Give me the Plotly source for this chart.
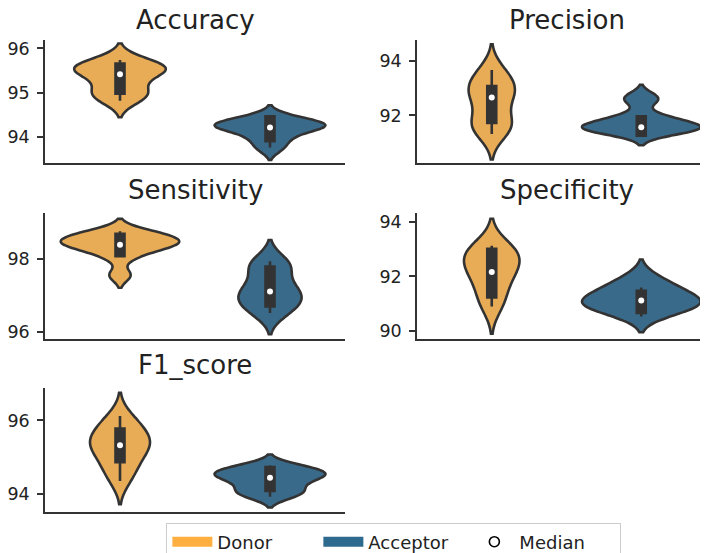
import plotly.graph_objects as go

# ---------------- data ----------------
metrics = ["Accuracy", "Precision", "Sensitivity", "Specificity", "F1_score"]
groups = ["Donor", "Acceptor"]

# per-fold scores (%)
accuracy_donor = [94.82, 94.95, 95.02, 95.20, 95.42, 95.48, 95.52, 95.58, 95.65, 95.74]
accuracy_acceptor = [93.74, 93.92, 94.05, 94.18, 94.22, 94.25, 94.28, 94.32, 94.38, 94.47]
precision_donor = [91.32, 91.55, 91.70, 91.90, 92.50, 92.75, 92.90, 93.10, 93.40, 93.67]
precision_acceptor = [91.34, 91.42, 91.50, 91.55, 91.58, 91.62, 91.70, 91.85, 92.00, 92.55, 92.68]
sensitivity_donor = [97.55, 98.05, 98.25, 98.35, 98.40, 98.45, 98.50, 98.60, 98.68, 98.75]
sensitivity_acceptor = [96.52, 96.65, 96.80, 96.95, 97.05, 97.15, 97.35, 97.70, 97.85, 97.93]
specificity_donor = [90.89, 91.20, 91.70, 92.00, 92.25, 92.45, 92.65, 92.85, 93.00, 93.13]
specificity_acceptor = [90.60, 90.75, 90.90, 91.00, 91.08, 91.15, 91.30, 91.50, 91.65, 91.96]
f1_donor = [94.36, 94.70, 94.90, 95.15, 95.30, 95.40, 95.50, 95.70, 95.85, 96.12]
f1_acceptor = [93.93, 94.05, 94.15, 94.30, 94.42, 94.50, 94.55, 94.60, 94.70, 94.79]

# inner box statistics as drawn: [lower whisker, Q1, median, Q3, upper whisker]
accuracy_donor_box = [94.82, 94.98, 95.42, 95.66, 95.74]
accuracy_acceptor_box = [93.77, 93.91, 94.22, 94.47, 94.50]
precision_donor_box = [91.32, 91.72, 92.66, 93.08, 93.67]
precision_acceptor_box = [91.25, 91.25, 91.56, 91.97, 91.97]
sensitivity_donor_box = [98.07, 98.07, 98.38, 98.68, 98.75]
sensitivity_acceptor_box = [96.52, 96.70, 97.11, 97.79, 97.93]
specificity_donor_box = [90.89, 91.22, 92.16, 93.02, 93.13]
specificity_acceptor_box = [90.52, 90.65, 91.11, 91.47, 91.59]
f1_donor_box = [94.36, 94.87, 95.33, 95.78, 96.12]
f1_acceptor_box = [93.93, 94.09, 94.45, 94.74, 94.79]

y_tick_vals = {
    "Accuracy": [94, 95, 96],
    "Precision": [92, 94],
    "Sensitivity": [96, 98],
    "Specificity": [90, 92, 94],
    "F1_score": [94, 96],
}

samples = {
    "Accuracy": (accuracy_donor, accuracy_acceptor),
    "Precision": (precision_donor, precision_acceptor),
    "Sensitivity": (sensitivity_donor, sensitivity_acceptor),
    "Specificity": (specificity_donor, specificity_acceptor),
    "F1_score": (f1_donor, f1_acceptor),
}
box_stats = {
    "Accuracy": (accuracy_donor_box, accuracy_acceptor_box),
    "Precision": (precision_donor_box, precision_acceptor_box),
    "Sensitivity": (sensitivity_donor_box, sensitivity_acceptor_box),
    "Specificity": (specificity_donor_box, specificity_acceptor_box),
    "F1_score": (f1_donor_box, f1_acceptor_box),
}

# ---------------- styling / layout ----------------
W, H = 708, 553
violin_fill = {"Donor": "#E8AC57", "Acceptor": "#3A6A8A"}
legend_color = {"Donor": "#FFAF40", "Acceptor": "#2E6A8E"}
edge = "#333333"
text_color = "#222222"
font_family = "DejaVu Sans"

# kde bandwidth and violin max width (data units) per metric: (donor, acceptor)
kde_bw = {
    "Accuracy": (0.185, 0.125),
    "Precision": (0.47, 0.22),
    "Sensitivity": (0.17, 0.29),
    "Specificity": (0.50, 0.33),
    "F1_score": (0.315, 0.145),
}
violin_w = {
    "Accuracy": (0.61, 0.74),
    "Precision": (0.31, 0.79),
    "Sensitivity": (0.79, 0.42),
    "Specificity": (0.37, 0.79),
    "F1_score": (0.40, 0.74),
}
y_ranges = {
    "Accuracy": [93.42, 96.19],
    "Precision": [90.25, 94.77],
    "Sensitivity": [95.81, 99.25],
    "Specificity": [89.69, 94.34],
    "F1_score": [93.52, 96.88],
}
# pixel boxes of each axes: (left, right, top, bottom) and title centre y
px_boxes = {
    "Accuracy": (37, 337, 32, 155, 12.0),
    "Precision": (409, 708, 32, 155, 12.0),
    "Sensitivity": (37, 337, 205, 331, 182.0),
    "Specificity": (409, 708, 205, 331, 182.0),
    "F1_score": (37, 337, 380, 504, 357.0),
}
title_size = 26

fig = go.Figure()
layout_axes = {}
annotations = []

for i, m in enumerate(metrics, start=1):
    xa = "x" if i == 1 else f"x{i}"
    ya = "y" if i == 1 else f"y{i}"
    for gi, g in enumerate(groups):
        vals = samples[m][gi]
        fig.add_trace(go.Violin(
            x=[g] * len(vals), y=vals, xaxis=xa, yaxis=ya,
            fillcolor=violin_fill[g], opacity=1,
            line=dict(color=edge, width=2.6),
            bandwidth=kde_bw[m][gi], spanmode="soft",
            width=violin_w[m][gi], scalemode="width",
            points=False, box_visible=False, meanline_visible=False,
            showlegend=False, hoverinfo="skip", name=g,
        ))
    for gi, g in enumerate(groups):
        lo, q1, med, q3, hi = box_stats[m][gi]
        fig.add_trace(go.Box(
            x=[g], q1=[q1], median=[med], q3=[q3],
            lowerfence=[lo], upperfence=[hi],
            xaxis=xa, yaxis=ya, width=0.06, whiskerwidth=0,
            fillcolor=edge, line=dict(color=edge, width=2.6),
            boxpoints=False, showlegend=False, hoverinfo="skip", name=g,
        ))
    fig.add_trace(go.Scatter(
        x=groups, y=[box_stats[m][0][2], box_stats[m][1][2]],
        xaxis=xa, yaxis=ya, mode="markers",
        marker=dict(color="white", size=6, line=dict(width=0)),
        showlegend=False, hoverinfo="skip",
    ))

    l, r, t, b, tmid = px_boxes[m]
    xdom = [l / W, min(r / W, 1.0)]
    ydom = [1 - b / H, 1 - t / H]
    axkey = "xaxis" if i == 1 else f"xaxis{i}"
    aykey = "yaxis" if i == 1 else f"yaxis{i}"
    layout_axes[axkey] = dict(
        domain=xdom, anchor=ya, type="category",
        categoryorder="array", categoryarray=groups,
        range=[-0.5, 1.5], showticklabels=False, ticks="",
        showline=True, linecolor=edge, linewidth=1.5,
        showgrid=False, zeroline=False, automargin=False, fixedrange=True,
    )
    layout_axes[aykey] = dict(
        domain=ydom, anchor=xa, range=y_ranges[m],
        tickmode="array", tickvals=y_tick_vals[m],
        ticks="outside", ticklen=6, tickwidth=1.5, tickcolor=edge,
        ticklabelstandoff=4, ticklabeloverflow="allow",
        tickfont=dict(size=17.5, color=text_color, family=font_family),
        showline=True, linecolor=edge, linewidth=1.5,
        showgrid=False, zeroline=False, automargin=False, fixedrange=True,
    )
    annotations.append(dict(
        text=m, xref="paper", yref="paper",
        x=(xdom[0] + xdom[1]) / 2, y=1 - tmid / H,
        xanchor="center", yanchor="middle", showarrow=False,
        font=dict(size=title_size, color=text_color, family=font_family),
    ))

# legend entries
for g in groups:
    fig.add_trace(go.Scatter(
        x=[None], y=[None], mode="lines", name=g,
        line=dict(color=legend_color[g], width=14),
        showlegend=True, hoverinfo="skip",
    ))
fig.add_trace(go.Scatter(
    x=[None], y=[None], mode="markers", name="Median",
    marker=dict(symbol="circle", color="white", size=10,
                line=dict(color="black", width=1.6)),
    showlegend=True, hoverinfo="skip",
))

fig.update_layout(
    width=W, height=H, template="none",
    margin=dict(l=0, r=0, t=0, b=0, autoexpand=False),
    paper_bgcolor="white", plot_bgcolor="white",
    font=dict(family=font_family, color=text_color, size=17),
    showlegend=True,
    legend=dict(
        orientation="h", x=0.545, xanchor="center",
        y=1 - 534 / H, yanchor="middle",
        bgcolor="white", bordercolor="#cccccc", borderwidth=1,
        font=dict(size=18, color=text_color, family=font_family),
        itemwidth=40, traceorder="normal",
        entrywidth=96, entrywidthmode="pixels",
    ),
    annotations=annotations,
    violinmode="overlay", boxmode="overlay",
    **layout_axes,
)

fig.write_html("out.html")
